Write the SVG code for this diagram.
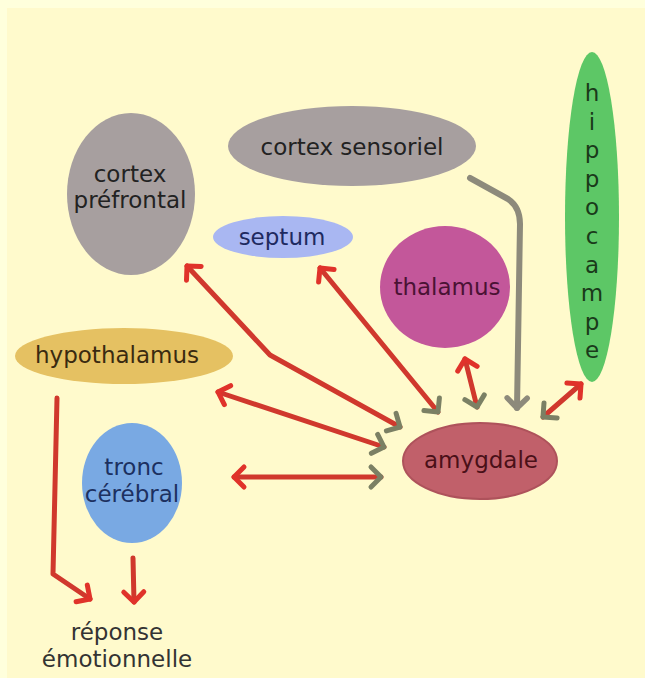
<svg xmlns="http://www.w3.org/2000/svg" width="645" height="678" viewBox="0 0 645 678">
<style>
  text { font-family: "DejaVu Sans", "Liberation Sans", sans-serif; font-size: 23px; text-anchor: middle; }
  .link { fill: none; stroke: #D0382D; stroke-width: 5; stroke-linejoin: round; stroke-linecap: round; }
  .gray { fill: none; stroke: #8D8A7B; stroke-width: 6; stroke-linejoin: round; stroke-linecap: round; }
</style>
<defs>
  <marker id="redS" markerUnits="userSpaceOnUse" markerWidth="28" markerHeight="28" viewBox="-14 -14 28 28" refX="0" refY="0" orient="auto-start-reverse">
    <path d="M-10,-10 L0,0 L-10,10" fill="none" stroke="#E0322A" stroke-width="5" stroke-linejoin="round" stroke-linecap="round"/>
  </marker>
  <marker id="redE" markerUnits="userSpaceOnUse" markerWidth="28" markerHeight="28" viewBox="-14 -14 28 28" refX="0" refY="0" orient="auto">
    <path d="M-10,-10 L0,0 L-10,10" fill="none" stroke="#E0322A" stroke-width="5" stroke-linejoin="round" stroke-linecap="round"/>
  </marker>
  <marker id="grayE" markerUnits="userSpaceOnUse" markerWidth="28" markerHeight="28" viewBox="-14 -14 28 28" refX="0" refY="0" orient="auto">
    <path d="M-10,-10 L0,0 L-10,10" fill="none" stroke="#7B8064" stroke-width="5" stroke-linejoin="round" stroke-linecap="round"/>
  </marker>
  <marker id="grayE2" markerUnits="userSpaceOnUse" markerWidth="28" markerHeight="28" viewBox="-14 -14 28 28" refX="0" refY="0" orient="auto">
    <path d="M-10,-10 L0,0 L-10,10" fill="none" stroke="#8D8A7B" stroke-width="5.5" stroke-linejoin="round" stroke-linecap="round"/>
  </marker>
</defs>
<rect x="0" y="0" width="645" height="678" fill="#FFFFDC"/>
<rect x="7" y="8" width="638" height="670" fill="#FFFACC"/>

<g id="cortex-prefrontal">
  <ellipse cx="131" cy="194" rx="64" ry="81" fill="#A79F9F"/>
  <text x="130" y="182" fill="#222">cortex</text>
  <text x="130" y="208" fill="#222">préfrontal</text>
</g>
<g id="cortex-sensoriel">
  <ellipse cx="352" cy="146" rx="124" ry="40" fill="#A79F9F"/>
  <text x="352" y="155" fill="#222">cortex sensoriel</text>
</g>
<g id="septum">
  <ellipse cx="283" cy="237" rx="70" ry="21" fill="#A9B7F2"/>
  <text x="282" y="245" fill="#1E2A60">septum</text>
</g>
<g id="thalamus">
  <ellipse cx="445" cy="287" rx="65" ry="61" fill="#C3579A"/>
  <text x="447" y="295" fill="#4A1234">thalamus</text>
</g>
<g id="hippocampe">
  <ellipse cx="592" cy="217" rx="27" ry="165" fill="#5DC766"/>
  <text x="592" y="101" fill="#1A3A1A" font-size="21"><tspan x="592">h</tspan><tspan x="592" dy="28.6">i</tspan><tspan x="592" dy="28.6">p</tspan><tspan x="592" dy="28.6">p</tspan><tspan x="592" dy="28.6">o</tspan><tspan x="592" dy="28.6">c</tspan><tspan x="592" dy="28.6">a</tspan><tspan x="592" dy="28.6">m</tspan><tspan x="592" dy="28.6">p</tspan><tspan x="592" dy="28.6">e</tspan></text>
</g>
<g id="hypothalamus">
  <ellipse cx="124" cy="356" rx="109" ry="28" fill="#E5C162"/>
  <text x="117" y="363" fill="#3A2A10">hypothalamus</text>
</g>
<g id="tronc-cerebral">
  <ellipse cx="132" cy="483" rx="50" ry="60" fill="#79A9E3"/>
  <text x="134" y="475" fill="#1C3060">tronc</text>
  <text x="132" y="502" fill="#1C3060">cérébral</text>
</g>
<g id="amygdale">
  <ellipse cx="480" cy="461" rx="77" ry="38" fill="#C1606A" stroke="#AE525B" stroke-width="2"/>
  <text x="481" y="468" fill="#4A1018">amygdale</text>
</g>
<g id="reponse">
  <text x="117" y="640" fill="#333">réponse</text>
  <text x="117" y="667" fill="#333">émotionnelle</text>
</g>

<g id="connectors">
  <polyline class="link" points="187,266 270,355 400,427" marker-start="url(#redS)" marker-end="url(#grayE)"/>
  <line class="link" x1="320" y1="268" x2="438" y2="412" marker-start="url(#redS)" marker-end="url(#grayE)"/>
  <line class="link" x1="218" y1="392" x2="384" y2="447" marker-start="url(#redS)" marker-end="url(#grayE)"/>
  <line class="link" x1="234" y1="477" x2="381" y2="477" marker-start="url(#redS)" marker-end="url(#grayE)"/>
  <line class="link" x1="465" y1="359" x2="477" y2="407" marker-start="url(#redS)" marker-end="url(#grayE)"/>
  <line class="link" x1="581" y1="384" x2="543" y2="417" marker-start="url(#redS)" marker-end="url(#grayE)"/>
  <path class="gray" d="M470,178 L508,199 Q520,207 520,224 L517,408" marker-end="url(#grayE2)"/>
  <polyline class="link" points="57,398 53,574 90,599" marker-end="url(#redE)"/>
  <line class="link" x1="133" y1="558" x2="134" y2="602" marker-end="url(#redE)"/>
</g>
</svg>
